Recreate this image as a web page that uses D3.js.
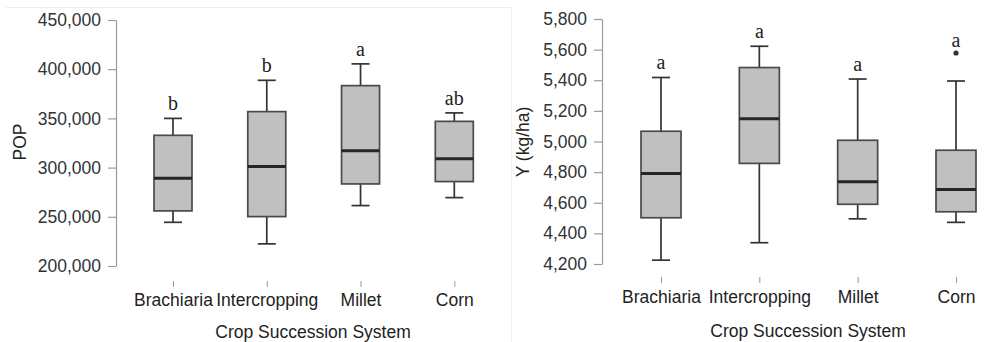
<!DOCTYPE html>
<html>
<head>
<meta charset="utf-8">
<script src="https://cdn.jsdelivr.net/npm/d3@7/dist/d3.min.js"></script>
<style>
  html, body { margin: 0; padding: 0; background: #fff; }
  svg { display: block; }
  .tick text { font-family: "Liberation Sans", Arial, sans-serif; }
</style>
</head>
<body>
<svg id="chart" width="995" height="342"></svg>
<script>
// Crop succession systems shown on both panels
const categories = ["Brachiaria", "Intercropping", "Millet", "Corn"];

// Panel 1: plant population (POP) five-number summaries
const popWhiskerLow  = [244400, 222500, 261400, 269500];
const popQ1          = [256000, 250200, 283400, 285800];
const popMedian      = [289100, 301000, 317000, 309100];
const popQ3          = [332800, 356900, 383300, 347000];
const popWhiskerHigh = [350000, 388700, 405400, 355600];
const popLetters     = ["b", "b", "a", "ab"];
const popTicks       = [200000, 250000, 300000, 350000, 400000, 450000];

// Panel 2: grain yield Y (kg/ha) five-number summaries
const yWhiskerLow  = [4225, 4339, 4495, 4472];
const yQ1          = [4502, 4857, 4590, 4541];
const yMedian      = [4791, 5148, 4737, 4687];
const yQ3          = [5067, 5483, 5008, 4943];
const yWhiskerHigh = [5418, 5622, 5408, 5395];
const yOutliers    = [[], [], [], [5578]];
const yLetters     = ["a", "a", "a", "a"];
const yTicks       = [4200, 4400, 4600, 4800, 5000, 5200, 5400, 5600, 5800];

const svg = d3.select("#chart");
const fmt = d3.format(",");
const FS = "17.5px";

// faint frame around the first panel
svg.append("path")
  .attr("d", "M6,7.5H511.5V342")
  .attr("fill", "none")
  .attr("stroke", "#eeeeee")
  .attr("stroke-width", 1);

function drawPanel(cfg) {
  const g = svg.append("g");
  const y = d3.scaleLinear().domain(cfg.domain).range(cfg.yRange);
  const x = d3.scalePoint().domain(categories).range(cfg.xRange);

  // y axis
  const yAxis = g.append("g")
    .attr("transform", `translate(${cfg.axisX},0)`)
    .call(d3.axisLeft(y).tickValues(cfg.ticks).tickFormat(fmt)
      .tickSize(8).tickSizeOuter(0).tickPadding(cfg.tickPad));
  yAxis.select(".domain").attr("stroke", "#9a9a9a").attr("stroke-width", 1.2);
  yAxis.selectAll(".tick line").attr("stroke", "#9a9a9a").attr("stroke-width", 1.2);
  yAxis.selectAll(".tick text")
    .attr("fill", "#333").style("font-size", FS);

  // x axis: small tick marks, no baseline
  const xAxis = g.append("g")
    .attr("transform", `translate(0,${cfg.xTickY})`)
    .call(d3.axisBottom(x).tickSize(6).tickSizeOuter(0).tickPadding(cfg.xPad));
  xAxis.select(".domain").remove();
  xAxis.selectAll(".tick line").attr("stroke", "#9a9a9a").attr("stroke-width", 1);
  xAxis.selectAll(".tick text")
    .attr("fill", "#222").style("font-size", FS);

  // axis titles
  g.append("text")
    .attr("transform", `translate(${cfg.yTitleX},142) rotate(-90)`)
    .attr("text-anchor", "middle")
    .attr("dominant-baseline", "central")
    .style("font-family", "'Liberation Sans', Arial, sans-serif")
    .style("font-size", FS)
    .attr("fill", "#222")
    .text(cfg.yTitle);

  g.append("text")
    .attr("x", cfg.xTitleX)
    .attr("y", cfg.xTitleY)
    .attr("text-anchor", "middle")
    .attr("dominant-baseline", "central")
    .style("font-family", "'Liberation Sans', Arial, sans-serif")
    .style("font-size", FS)
    .attr("fill", "#222")
    .text("Crop Succession System");

  const bw = cfg.boxWidth, cap = 18;
  categories.forEach((c, i) => {
    const cx = x(c);
    const bg = g.append("g");
    // whiskers
    bg.append("line")
      .attr("x1", cx).attr("x2", cx)
      .attr("y1", y(cfg.hi[i])).attr("y2", y(cfg.q3[i]))
      .attr("stroke", "#333").attr("stroke-width", 1.7);
    bg.append("line")
      .attr("x1", cx).attr("x2", cx)
      .attr("y1", y(cfg.q1[i])).attr("y2", y(cfg.lo[i]))
      .attr("stroke", "#333").attr("stroke-width", 1.7);
    [cfg.hi[i], cfg.lo[i]].forEach(v => {
      bg.append("line")
        .attr("x1", cx - cap / 2).attr("x2", cx + cap / 2)
        .attr("y1", y(v)).attr("y2", y(v))
        .attr("stroke", "#333").attr("stroke-width", 1.7);
    });
    // box
    bg.append("rect")
      .attr("x", cx - bw / 2).attr("width", bw)
      .attr("y", y(cfg.q3[i])).attr("height", y(cfg.q1[i]) - y(cfg.q3[i]))
      .attr("fill", "#c0c0c0").attr("stroke", "#4a4a4a").attr("stroke-width", 1.7);
    // median
    bg.append("line")
      .attr("x1", cx - bw / 2).attr("x2", cx + bw / 2)
      .attr("y1", y(cfg.med[i])).attr("y2", y(cfg.med[i]))
      .attr("stroke", "#262626").attr("stroke-width", 3);
    // outliers
    const outs = cfg.outliers ? cfg.outliers[i] : [];
    outs.forEach(v => {
      bg.append("circle")
        .attr("cx", cx).attr("cy", y(v)).attr("r", 2.6)
        .attr("fill", "#333");
    });
    // significance letter above the highest point
    const top = d3.max([cfg.hi[i], ...outs]);
    bg.append("text")
      .attr("x", cx).attr("y", y(top) - (outs.length ? 6 : 8))
      .attr("text-anchor", "middle")
      .style("font-family", "'Liberation Serif', 'Times New Roman', serif")
      .style("font-size", "20px")
      .attr("fill", "#222")
      .text(cfg.letters[i]);
  });
}

drawPanel({
  domain: [200000, 450000], yRange: [266, 20], xRange: [173, 454.3],
  ticks: popTicks, axisX: 116, tickPad: 7, xTickY: 281, xPad: 7,
  yTitle: "POP", yTitleX: 20, xTitleX: 313, xTitleY: 331.5,
  boxWidth: 38,
  lo: popWhiskerLow, q1: popQ1, med: popMedian, q3: popQ3, hi: popWhiskerHigh,
  letters: popLetters
});

drawPanel({
  domain: [4200, 5800], yRange: [264, 19], xRange: [661, 956],
  ticks: yTicks, axisX: 602, tickPad: 7, xTickY: 277, xPad: 8,
  yTitle: "Y (kg/ha)", yTitleX: 523, xTitleX: 808, xTitleY: 331,
  boxWidth: 40,
  lo: yWhiskerLow, q1: yQ1, med: yMedian, q3: yQ3, hi: yWhiskerHigh,
  outliers: yOutliers, letters: yLetters
});
</script>
</body>
</html>
